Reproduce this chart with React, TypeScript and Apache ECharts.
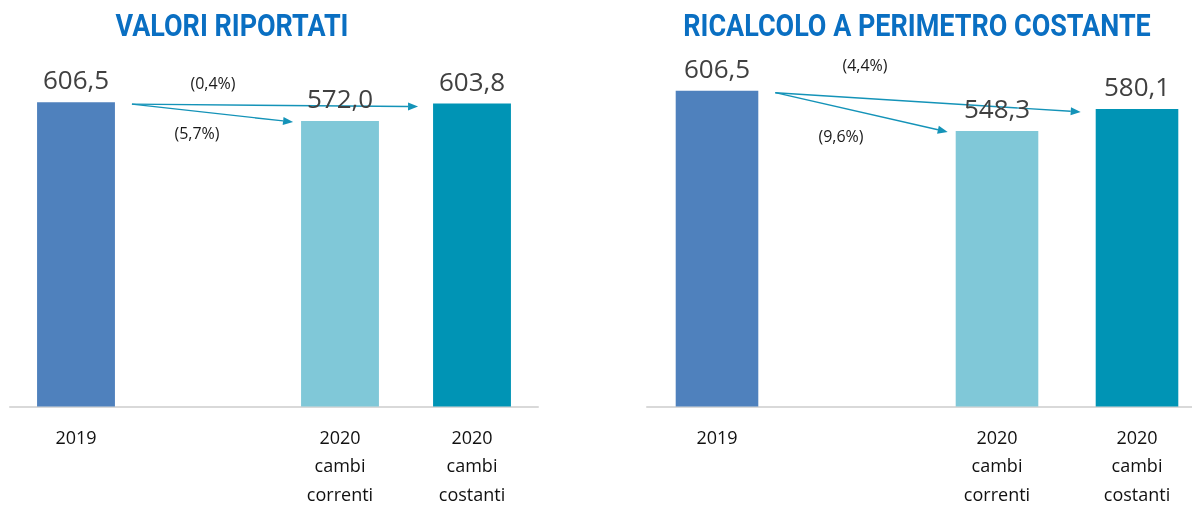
import React, { useEffect, useRef } from 'react';
import * as echarts from 'echarts';

const categories = ['2019', '', '2020\ncambi\ncorrenti', '2020\ncambi\ncostanti'];
const reportedValues: (number | null)[] = [606.5, null, 572.0, 603.8];
const perimeterValues: (number | null)[] = [606.5, null, 548.3, 580.1];
const reportedChanges = ['(0,4%)', '(5,7%)']; // to "costanti", to "correnti"
const perimeterChanges = ['(4,4%)', '(9,6%)'];
const barColors = ['#4F81BD', 'transparent', '#80C8D8', '#0094B5'];
const titles = ['VALORI RIPORTATI', 'RICALCOLO A PERIMETRO COSTANTE'];

const FONT = '"Open Sans", "Noto Sans", sans-serif';
const ARROW = '#1493B8';
const BAR_RATIO = 0.59;

const fmt = (v: number) => v.toFixed(1).replace('.', ',');

export default function App() {
  const ref = useRef<HTMLDivElement>(null);
  useEffect(() => {
    if (!ref.current) return;
    const chart = echarts.init(ref.current, undefined, { renderer: 'svg' });
    const panels = [
      { values: reportedValues, grid: { left: 10, top: 51, width: 528, height: 356 }, min: 50, max: 700 },
      { values: perimeterValues, grid: { left: 647, top: 26, width: 560, height: 383 }, min: 150, max: 700 },
    ];
    const option: any = {
      animation: false,
      grid: panels.map((p) => ({ ...p.grid, containLabel: false })),
      xAxis: panels.map((_, i) => ({
        type: 'category',
        gridIndex: i,
        data: categories,
        axisTick: { show: false },
        axisLine: { lineStyle: { color: '#D9D9D9', width: 2 } },
        axisLabel: {
          interval: 0,
          color: '#111',
          fontSize: 18,
          fontFamily: FONT,
          lineHeight: 28.5,
          margin: 16,
        },
      })),
      yAxis: panels.map((p, i) => ({
        type: 'value',
        gridIndex: i,
        min: p.min,
        max: p.max,
        show: false,
        splitLine: { show: false },
      })),
      series: panels.map((p, i) => ({
        type: 'bar',
        xAxisIndex: i,
        yAxisIndex: i,
        barWidth: `${BAR_RATIO * 100}%`,
        data: p.values.map((v, j) =>
          v == null ? '-' : { value: v, itemStyle: { color: barColors[j] } }
        ),
        label: {
          show: true,
          position: 'top',
          distance: 10,
          fontSize: 26,
          fontFamily: FONT,
          color: '#404040',
          formatter: (d: any) => fmt(d.value),
        },
      })),
    };
    chart.setOption(option);

    // arrows computed from data via axes
    const graphics: any[] = [];
    const arrow = (x1: number, y1: number, x2: number, y2: number) => {
      const ang = Math.atan2(y2 - y1, x2 - x1);
      const L = 10, W = 4;
      const bx = x2 - L * Math.cos(ang), by = y2 - L * Math.sin(ang);
      const px = -Math.sin(ang) * W, py = Math.cos(ang) * W;
      graphics.push({
        type: 'line',
        shape: { x1, y1, x2: bx, y2: by },
        style: { stroke: ARROW, lineWidth: 1.4 },
        silent: true,
      });
      graphics.push({
        type: 'polygon',
        shape: { points: [[x2, y2], [bx + px, by + py], [bx - px, by - py]] },
        style: { fill: ARROW },
        silent: true,
      });
    };
    panels.forEach((p, i) => {
      const pt = (j: number) =>
        chart.convertToPixel({ xAxisIndex: i, yAxisIndex: i } as any, [j, p.values[j] as number]) as number[];
      const slot = pt(3)[0] - pt(2)[0];
      const half = (slot * BAR_RATIO) / 2;
      const s = pt(0);
      const sx = s[0] + half + 17, sy = s[1] + 2;
      const near = pt(2);
      const far = pt(3);
      arrow(sx, sy, near[0] - half - 8, near[1] + 1);
      arrow(sx, sy, far[0] - half - 15, far[1] + 3);
    });

    const textLabel = (text: string, x: number, y: number) => ({
      type: 'text',
      x,
      y,
      silent: true,
      style: {
        text,
        fill: '#1a1a1a',
        font: `16px ${FONT}`,
        align: 'center',
        verticalAlign: 'middle',
      },
    });
    graphics.push(textLabel(reportedChanges[0], 213, 83));
    graphics.push(textLabel(reportedChanges[1], 197, 133));
    graphics.push(textLabel(perimeterChanges[0], 865, 65));
    graphics.push(textLabel(perimeterChanges[1], 841, 136));

    const titleText = (text: string, x: number) => ({
      type: 'text',
      x,
      y: 25,
      scaleX: 0.87,
      silent: true,
      style: {
        text,
        fill: '#0A6FC2',
        font: `bold 31px Roboto, sans-serif`,
        align: 'center',
        verticalAlign: 'middle',
      },
    });
    graphics.push(titleText(titles[0], 232));
    graphics.push(titleText(titles[1], 917));

    chart.setOption({ graphic: graphics });

    return () => chart.dispose();
  }, []);
  return (
    <div style={{ position: 'fixed', left: 0, top: 0, width: 1192, height: 508, overflow: 'hidden' }}>
      <div ref={ref} style={{ width: 1210, height: 508 }} />
    </div>
  );
}
